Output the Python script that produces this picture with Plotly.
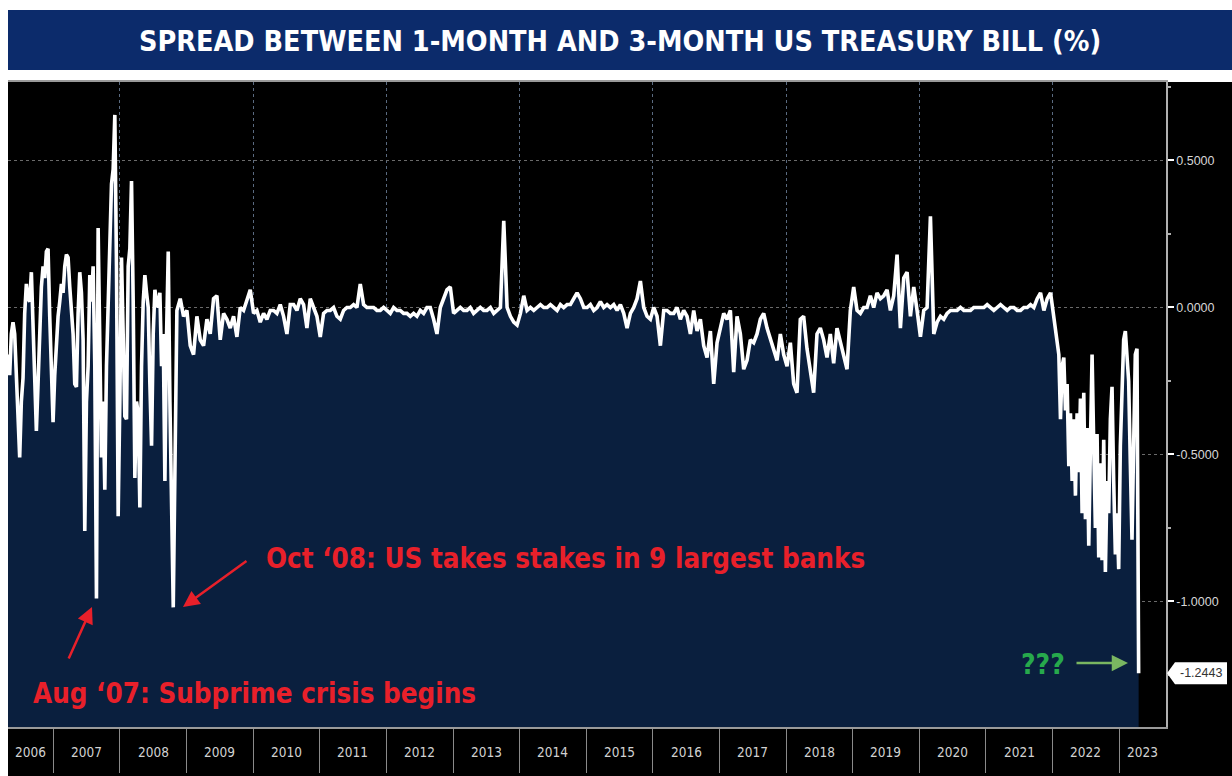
import pandas as pd
import plotly.graph_objects as go

# ---------------- DATA ----------------
title_text = "SPREAD BETWEEN 1-MONTH AND 3-MONTH US TREASURY BILL (%)"

# segment 1: Apr 2006 -> Oct 2008 (volatile)
seg1_start, seg1_end = "2006-04-28", "2008-10-20"
seg1_values = [
    -0.16, -0.23, -0.09, -0.05, -0.09, -0.24, -0.32, -0.51, -0.32, -0.24,
    -0.02, 0.08, 0.03, 0.02, 0.12, -0.08, -0.24, -0.42, -0.26, -0.09,
    0.07, 0.14, 0.10, 0.19, 0.20, -0.03, -0.20, -0.39, -0.23, -0.11,
    -0.03, 0.02, 0.08, 0.05, 0.14, 0.18, 0.17, 0.07, 0.00, -0.09,
    -0.26, -0.27, -0.02, 0.12, 0.05, -0.11, -0.76, -0.32, -0.20, 0.11,
    0.02, 0.14, -0.20, -0.99, 0.27, -0.09, -0.51, -0.32, -0.62, -0.20,
    0.02, 0.19, 0.42, 0.47, 0.655, 0.14, -0.71, -0.32, 0.17, -0.09,
    -0.37, -0.38, 0.14, 0.20, 0.43, 0.02, -0.58, -0.32, -0.36, -0.68,
    -0.20, 0.02, 0.11, 0.05, 0.00, -0.26, -0.47, -0.09, 0.06, 0.02,
    0.00, 0.05, -0.20, -0.09, -0.59, -0.09, 0.19, -0.32, -0.75, -1.02,
]

# segment 2: Nov 2008 -> Jul 2013
seg2_start, seg2_end = "2008-11-09", "2013-07-06"
seg2_values = [
    -0.01, 0.03, -0.03, -0.01, -0.13, -0.16, -0.03, -0.11, -0.13, -0.04,
    -0.09, 0.03, 0.04, -0.11, -0.02, -0.04, -0.07, -0.03, -0.10, 0.00,
    -0.01, 0.03, 0.06, -0.02, -0.01, -0.05, -0.02, -0.04, -0.01, -0.01,
    -0.02, 0.01, -0.03, -0.09, 0.01, 0.01, -0.01, 0.03, 0.01, -0.07,
    0.03, 0.00, -0.03, -0.10, -0.02, -0.01, -0.01, 0.00, -0.03, -0.04,
    -0.01, 0.00, 0.00, 0.01, 0.00, 0.08, 0.01, 0.00, 0.00, 0.00,
    -0.01, -0.01, 0.00, -0.01, -0.02, 0.00, -0.01, -0.01, -0.02, -0.02,
    -0.03, -0.02, -0.03, -0.01, -0.02, 0.00, 0.00, -0.04, -0.09, 0.00,
    0.03, 0.06, 0.07, -0.02, -0.01, 0.00, -0.01, -0.01, 0.00, -0.02,
    -0.01, 0.00, -0.01, -0.01,
]

# segment 3: Jul 2013 -> Mar 2018
seg3_start, seg3_end = "2013-07-25", "2018-03-02"
seg3_values = [
    0.00, -0.02, -0.01, 0.00, 0.295, 0.00, -0.03, -0.05, -0.06, -0.02,
    0.04, -0.01, 0.00, -0.01, 0.00, 0.01, 0.00, 0.00, 0.01, 0.00,
    -0.01, 0.01, 0.00, 0.01, 0.01, 0.03, 0.05, 0.03, 0.00, 0.00,
    0.01, -0.01, 0.00, 0.02, 0.00, 0.01, 0.00, 0.01, -0.01, 0.01,
    -0.02, -0.07, -0.02, 0.00, 0.03, 0.09, 0.00, -0.03, -0.04, 0.00,
    -0.03, -0.13, -0.01, -0.01, -0.02, -0.02, 0.00, -0.04, -0.01, -0.03,
    -0.09, -0.01, -0.08, -0.04, -0.13, -0.17, -0.08, -0.26, -0.12, -0.07,
    -0.02, -0.04, -0.01, -0.22, -0.03, -0.09, -0.21, -0.18, -0.11, -0.12,
    -0.09, -0.04, -0.02, -0.07, -0.11, -0.14, -0.18, -0.09, -0.16, -0.20,
    -0.12, -0.26, -0.29,
]

# segment 4: Mar 2018 -> Dec 2021
seg4_start, seg4_end = "2018-03-20", "2021-12-21"
seg4_values = [
    -0.04, -0.03, -0.14, -0.22, -0.29, -0.09, -0.07, -0.11, -0.17, -0.09,
    -0.19, -0.07, -0.12, -0.17, -0.21, -0.01, 0.07, -0.01, -0.02, 0.00,
    0.00, 0.04, 0.00, 0.05, 0.03, 0.04, 0.06, -0.01, 0.04, 0.18,
    -0.07, 0.10, 0.12, -0.03, 0.07, -0.01, -0.10, -0.01, 0.00, 0.31,
    -0.09, -0.05, -0.03, -0.04, -0.02, -0.01, -0.01, -0.01, 0.00, -0.01,
    -0.01, -0.01, 0.00, 0.00, 0.00, 0.00, 0.01, 0.00, -0.01, 0.00,
    0.01, 0.00, -0.01, 0.00, 0.00, -0.01, -0.01, 0.00, 0.00, 0.01,
    0.00, 0.03, 0.05, -0.01, 0.03, 0.05,
]

# segment 5: Jan 2022 -> Apr 2023
seg5_start, seg5_end = "2022-01-08", "2023-04-18"
seg5_values = [
    -0.03, -0.07, -0.10, -0.16, -0.38, -0.20, -0.17, -0.35, -0.26, -0.54,
    -0.36, -0.59, -0.38, -0.64, -0.36, -0.56, -0.31, -0.70, -0.29, -0.72,
    -0.41, -0.81, -0.47, -0.16, -0.47, -0.75, -0.43, -0.85, -0.53, -0.86,
    -0.45, -0.90, -0.59, -0.70, -0.38, -0.27, -0.59, -0.84, -0.70, -0.89,
    -0.47, -0.25, -0.11, -0.08, -0.19, -0.25, -0.53, -0.79, -0.47, -0.16,
    -0.14, -1.2443,
]

years = list(range(2006, 2024))
y_tick_vals = [0.5, 0.0, -0.5, -1.0]
y_tick_text = ["0.5000", "0.0000", "-0.5000", "-1.0000"]

ann_oct = "Oct \u201808: US takes stakes in 9 largest banks"
ann_aug = "Aug \u201807: Subprime crisis begins"
ann_q = "???"

# ---------------- BUILD ----------------
W, H = 1232, 776
segments = [
    (seg1_start, seg1_end, seg1_values),
    (seg2_start, seg2_end, seg2_values),
    (seg3_start, seg3_end, seg3_values),
    (seg4_start, seg4_end, seg4_values),
    (seg5_start, seg5_end, seg5_values),
]
dates, vals = [], []
for s, e, v in segments:
    dates.extend(pd.date_range(s, e, periods=len(v)))
    vals.extend(v)

x_min, x_max = pd.Timestamp("2006-04-28"), pd.Timestamp("2023-09-15")
y_min, y_max = -1.427, 0.767

# pixel layout helpers
PL, PR, PT, PB = 8, 1166, 82, 727
def px(x):
    return x / W
def py(y):
    return 1 - y / H

NAVY = "#0a1f3e"
RED = "#e8202a"
FONT_N = "Liberation Sans Narrow, DejaVu Sans Condensed, Arial Narrow, sans-serif"

fig = go.Figure()
fig.add_trace(go.Scatter(x=dates, y=[y_min] * len(dates), mode="lines",
                         line=dict(width=0, color=NAVY), hoverinfo="skip",
                         showlegend=False))
fig.add_trace(go.Scatter(x=dates, y=vals, mode="lines", fill="tonexty",
                         fillcolor=NAVY, line=dict(color="white", width=3.6),
                         showlegend=False))

shapes = [
    # white strips (left and top)
    dict(type="rect", xref="paper", yref="paper", x0=0, x1=px(PL), y0=0, y1=1,
         fillcolor="white", line=dict(width=0), layer="below"),
    dict(type="rect", xref="paper", yref="paper", x0=0, x1=1, y0=py(PT), y1=1,
         fillcolor="white", line=dict(width=0), layer="below"),
    # title banner
    dict(type="rect", xref="paper", yref="paper", x0=px(PL), x1=1, y0=py(70), y1=py(10),
         fillcolor="#0c2b6b", line=dict(width=0), layer="below"),
]

# last value label pointer
last_v = vals[-1]
dy = 11 / 294
shapes.append(dict(type="path", xref="paper", yref="y",
                   path=f"M {px(1167)} {last_v} L {px(1175)} {last_v + dy} L {px(1227)} {last_v + dy} "
                        f"L {px(1227)} {last_v - dy} L {px(1175)} {last_v - dy} Z",
                   fillcolor="white", line=dict(width=0), layer="above"))

annotations = [
    dict(text=f"<b>{title_text}</b>", xref="paper", yref="paper", x=px(620), y=py(41),
         xanchor="center", yanchor="middle", showarrow=False,
         font=dict(family=FONT_N, size=28.5, color="white")),
    dict(text=f"<b>{ann_oct}</b>", xref="paper", yref="paper", x=px(264), y=py(558),
         xanchor="left", yanchor="middle", showarrow=False,
         font=dict(family=FONT_N, size=27.5, color=RED)),
    dict(text=f"<b>{ann_aug}</b>", xref="paper", yref="paper", x=px(31), y=py(693),
         xanchor="left", yanchor="middle", showarrow=False,
         font=dict(family=FONT_N, size=27.5, color=RED)),
    dict(text=f"<b>{ann_q}</b>", xref="paper", yref="paper", x=px(1019), y=py(664),
         xanchor="left", yanchor="middle", showarrow=False,
         font=dict(family=FONT_N, size=28, color="#27a94c")),
    # arrows
    dict(text="", xref="paper", yref="paper", x=px(183), y=py(607), ax=65, ay=-47,
         showarrow=True, arrowhead=2, arrowsize=1.3, arrowwidth=2.5, arrowcolor=RED),
    dict(text="", xref="paper", yref="paper", x=px(92), y=py(607), ax=-24, ay=53,
         showarrow=True, arrowhead=2, arrowsize=1.3, arrowwidth=2.5, arrowcolor=RED),
    dict(text="", xref="paper", yref="paper", x=px(1128), y=py(663), ax=-53, ay=0,
         showarrow=True, arrowhead=2, arrowsize=1.3, arrowwidth=2.5, arrowcolor="#7ab661"),
    # last value label
    dict(text=f"{last_v:.4f}", xref="paper", yref="y", x=px(1201), y=last_v,
         xanchor="center", yanchor="middle", showarrow=False,
         font=dict(family="Liberation Sans, Arial, sans-serif", size=12.5, color="#333333")),
]

# year labels centred in the visible part of each year band
for yr in years:
    a = max(pd.Timestamp(f"{yr}-01-01"), x_min)
    b = min(pd.Timestamp(f"{yr + 1}-01-01"), x_max)
    mid = a + (b - a) / 2
    annotations.append(dict(text=str(yr), xref="x", yref="paper", x=mid, y=py(752),
                            xanchor="center", yanchor="middle", showarrow=False,
                            font=dict(family=FONT_N, size=13.5, color="#d2d2d2")))

year_starts = [pd.Timestamp(f"{yr}-01-01") for yr in years[1:]]
even_years = [pd.Timestamp(f"{yr}-01-01") for yr in years if yr % 2 == 0 and yr > 2006]

fig.update_layout(
    width=W, height=H,
    margin=dict(l=0, r=0, t=0, b=0),
    paper_bgcolor="black", plot_bgcolor="black",
    shapes=shapes, annotations=annotations,
    showlegend=False,
    xaxis=dict(type="date", range=[x_min, x_max], domain=[px(PL), px(PR)],
               tickmode="array", tickvals=year_starts, showticklabels=False,
               ticks="outside", ticklen=44, tickwidth=1, tickcolor="#8a8a8a",
               showgrid=False, zeroline=False,
               showline=True, linecolor="#9a9a9a", linewidth=1.5, mirror=True,
               minor=dict(tickmode="array", tickvals=even_years, ticks="",
                          showgrid=True, gridcolor="#5a6a80", griddash="dot", gridwidth=1)),
    yaxis=dict(range=[y_min, y_max], domain=[py(PB), py(PT)], side="right",
               tickmode="array", tickvals=y_tick_vals, ticktext=y_tick_text,
               ticks="outside", ticklen=6, tickwidth=2, tickcolor="white",
               tickfont=dict(family="Liberation Sans, Arial, sans-serif", size=12.5, color="#d6d6d6"),
               showgrid=True, gridcolor="#6a6a6a", griddash="dot", gridwidth=1,
               zeroline=False, showline=True, linecolor="#b0b0b0", linewidth=1.5,
               minor=dict(dtick=0.25, tick0=0, ticks="outside", ticklen=3, tickcolor="#b0b0b0",
                          showgrid=False)),
)

fig.write_html("out.html", config={"displayModeBar": False},
               post_script="document.body.style.margin='0';")
